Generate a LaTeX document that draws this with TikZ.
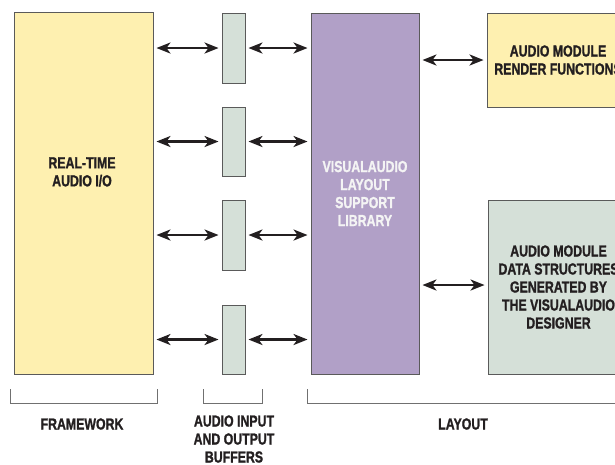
\documentclass[tikz,border=0pt]{standalone}
\usepackage{fontspec}
\setmainfont{Liberation Sans Bold}[FakeStretch=0.77,FakeBold=1.2]
\usetikzlibrary{arrows.meta}
\definecolor{fwyellow}{HTML}{FEF0B0}
\definecolor{libpurple}{HTML}{B1A0C7}
\definecolor{bufgreen}{HTML}{D5E0D8}
\definecolor{boxline}{HTML}{5A5A5A}
\definecolor{brline}{HTML}{707070}
\definecolor{txt}{HTML}{231F20}
\definecolor{libtxt}{HTML}{F4F4F4}

\begin{document}
\begin{tikzpicture}[x=1pt,y=-1pt,
	>={Stealth[length=14pt,width=11pt,inset=4pt]},
	box/.style = {draw=boxline,line width=0.9pt,inner sep=0pt,text=txt,align=center,font=\fontsize{16}{18}\selectfont},
	buffer/.style = {box,fill=bufgreen,minimum width=23pt},
	link/.style = {<->,line width=2.6pt,draw=txt,shorten <=3pt,shorten >=3pt},
	brace/.style = {draw=brline,line width=0.9pt},
	lbl/.style = {text=txt,align=center,inner sep=0pt,font=\fontsize{16}{18}\selectfont}
	]
	\path[use as bounding box,clip] (0,0) rectangle (615,464);
	%FRAMEWORK
	\node[box,fill=fwyellow,minimum width=139pt,minimum height=362pt] (fw) at (83.5,193) {};
	\node[lbl] (rtio) at (82,172) {REAL-TIME\\AUDIO I/O};
	%BUFFERS
	\node[buffer,minimum height=70pt] (buf1) at (233.5,48) {};
	\node[buffer,minimum height=69pt] (buf2) at (233.5,141.5) {};
	\node[buffer,minimum height=70pt] (buf3) at (233.5,235) {};
	\node[buffer,minimum height=69pt] (buf4) at (233.5,339.5) {};
	%LAYOUT
	\node[box,fill=libpurple,text=libtxt,minimum width=108pt,minimum height=361pt] (lib) at (365,193.5) {VISUALAUDIO\\LAYOUT\\SUPPORT\\LIBRARY};
	\node[box,fill=fwyellow,minimum width=142pt,minimum height=94pt] (rend) at (558,60) {AUDIO MODULE\\RENDER FUNCTIONS};
	\node[box,fill=bufgreen,minimum width=141pt,minimum height=174pt] (data) at (558.5,287) {AUDIO MODULE\\DATA STRUCTURES\\GENERATED BY\\THE VISUALAUDIO\\DESIGNER};
	%Frecce
	\draw[link] (buf1.west -| fw.east) -- (buf1.west);
	\draw[link] (buf2.west -| fw.east) -- (buf2.west);
	\draw[link] (buf3.west -| fw.east) -- (buf3.west);
	\draw[link] (buf4.west -| fw.east) -- (buf4.west);
	\draw[link] (buf1.east) -- (buf1.east -| lib.west);
	\draw[link] (buf2.east) -- (buf2.east -| lib.west);
	\draw[link] (buf3.east) -- (buf3.east -| lib.west);
	\draw[link] (buf4.east) -- (buf4.east -| lib.west);
	\draw[link] (rend.west -| lib.east) -- (rend.west);
	\draw[link] ([yshift=2pt]data.west -| lib.east) -- ([yshift=2pt]data.west);
	%Parentesi
	\draw[brace] ([xshift=-3pt,yshift=-15pt]fw.south west) -- ++(0,14) -| ([xshift=4pt,yshift=-15pt]fw.south east);
	\draw[brace] ([xshift=-18pt,yshift=-15pt]buf4.south west) -- ++(0,14) -| ([xshift=17pt,yshift=-15pt]buf4.south east);
	\draw[brace] ([xshift=-3pt,yshift=-15pt]lib.south west) -- ++(0,14) -- ++(340,0);
	\node[lbl] (fwlbl) at (82,424) {FRAMEWORK};
	\node[lbl] (buflbl) at (234,439) {AUDIO INPUT\\AND OUTPUT\\BUFFERS};
	\node[lbl] (laylbl) at (463,424) {LAYOUT};
\end{tikzpicture}
\end{document}
